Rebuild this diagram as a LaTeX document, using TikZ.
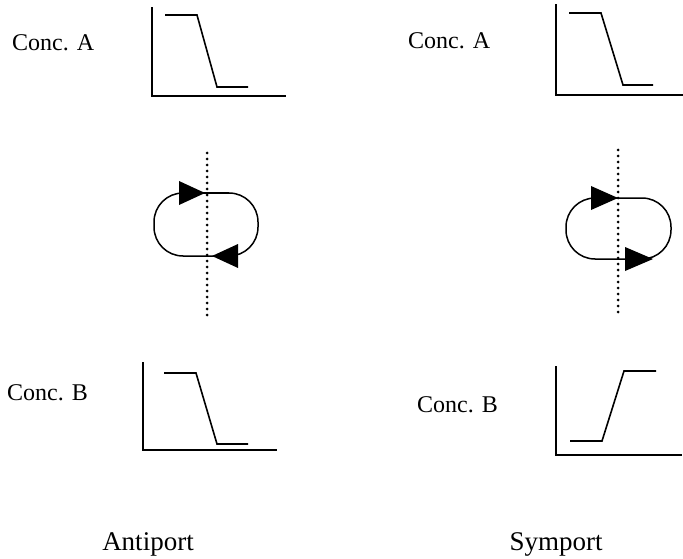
\documentclass[tikz,border=0pt]{standalone}
\usepackage{fontspec}
\setmainfont{Liberation Serif}
\begin{document}
\begin{tikzpicture}[x=1pt,y=-1pt,
  axis/.style={line width=2pt, line cap=rect},
  curve/.style={line width=1.6pt, line join=miter},
  loopline/.style={line width=1.5pt, rounded corners=29pt},
  head/.style={fill=black},
  membrane/.style={line width=3pt, dash pattern=on 0pt off 6pt, line cap=round},
  conc/.style={font=\fontsize{24}{28}\selectfont, inner sep=0pt, anchor=west},
  title/.style={font=\fontsize{27}{32}\selectfont, inner sep=0pt, anchor=base}]
\useasboundingbox (0,0) rectangle (683,559);

% ---------- Antiport ----------
\node[conc] (concAl) at (12,43) {Conc. A};
\draw[axis] (152,8) -- (152,96) -- (285,96);
\draw[curve] (165,15) -- (197,15) -- (217,87) -- (248,87);

\draw[membrane] (207,153) -- (207,320);
\draw[loopline] (154,193) rectangle (258,256);
\fill[head] (179,181) -- (205,193) -- (179,205) -- cycle;
\fill[head] (238,244) -- (212,256) -- (238,268) -- cycle;

\node[conc] (concBl) at (7,393) {Conc. B};
\draw[axis] (143,363) -- (143,450) -- (276,450);
\draw[curve] (164,373) -- (196,373) -- (217,444) -- (248,444);

\node[title] (anti) at (148,550) {Antiport};

% ---------- Symport ----------
\node[conc] (concAr) at (408,41) {Conc. A};
\draw[axis] (556,5) -- (556,95) -- (682,95);
\draw[curve] (569,13) -- (601,13) -- (623,85) -- (653,85);

\draw[membrane] (618,150) -- (618,317);
\draw[loopline] (566,198) rectangle (671,259);
\fill[head] (591,186) -- (618,198) -- (591,210) -- cycle;
\fill[head] (625,247) -- (653,259) -- (625,271) -- cycle;

\node[conc] (concBr) at (417,405) {Conc. B};
\draw[axis] (556,367) -- (556,455) -- (681,455);
\draw[curve] (570,441) -- (602,441) -- (624,371) -- (656,371);

\node[title] (sym) at (556,550) {Symport};
\end{tikzpicture}
\end{document}
